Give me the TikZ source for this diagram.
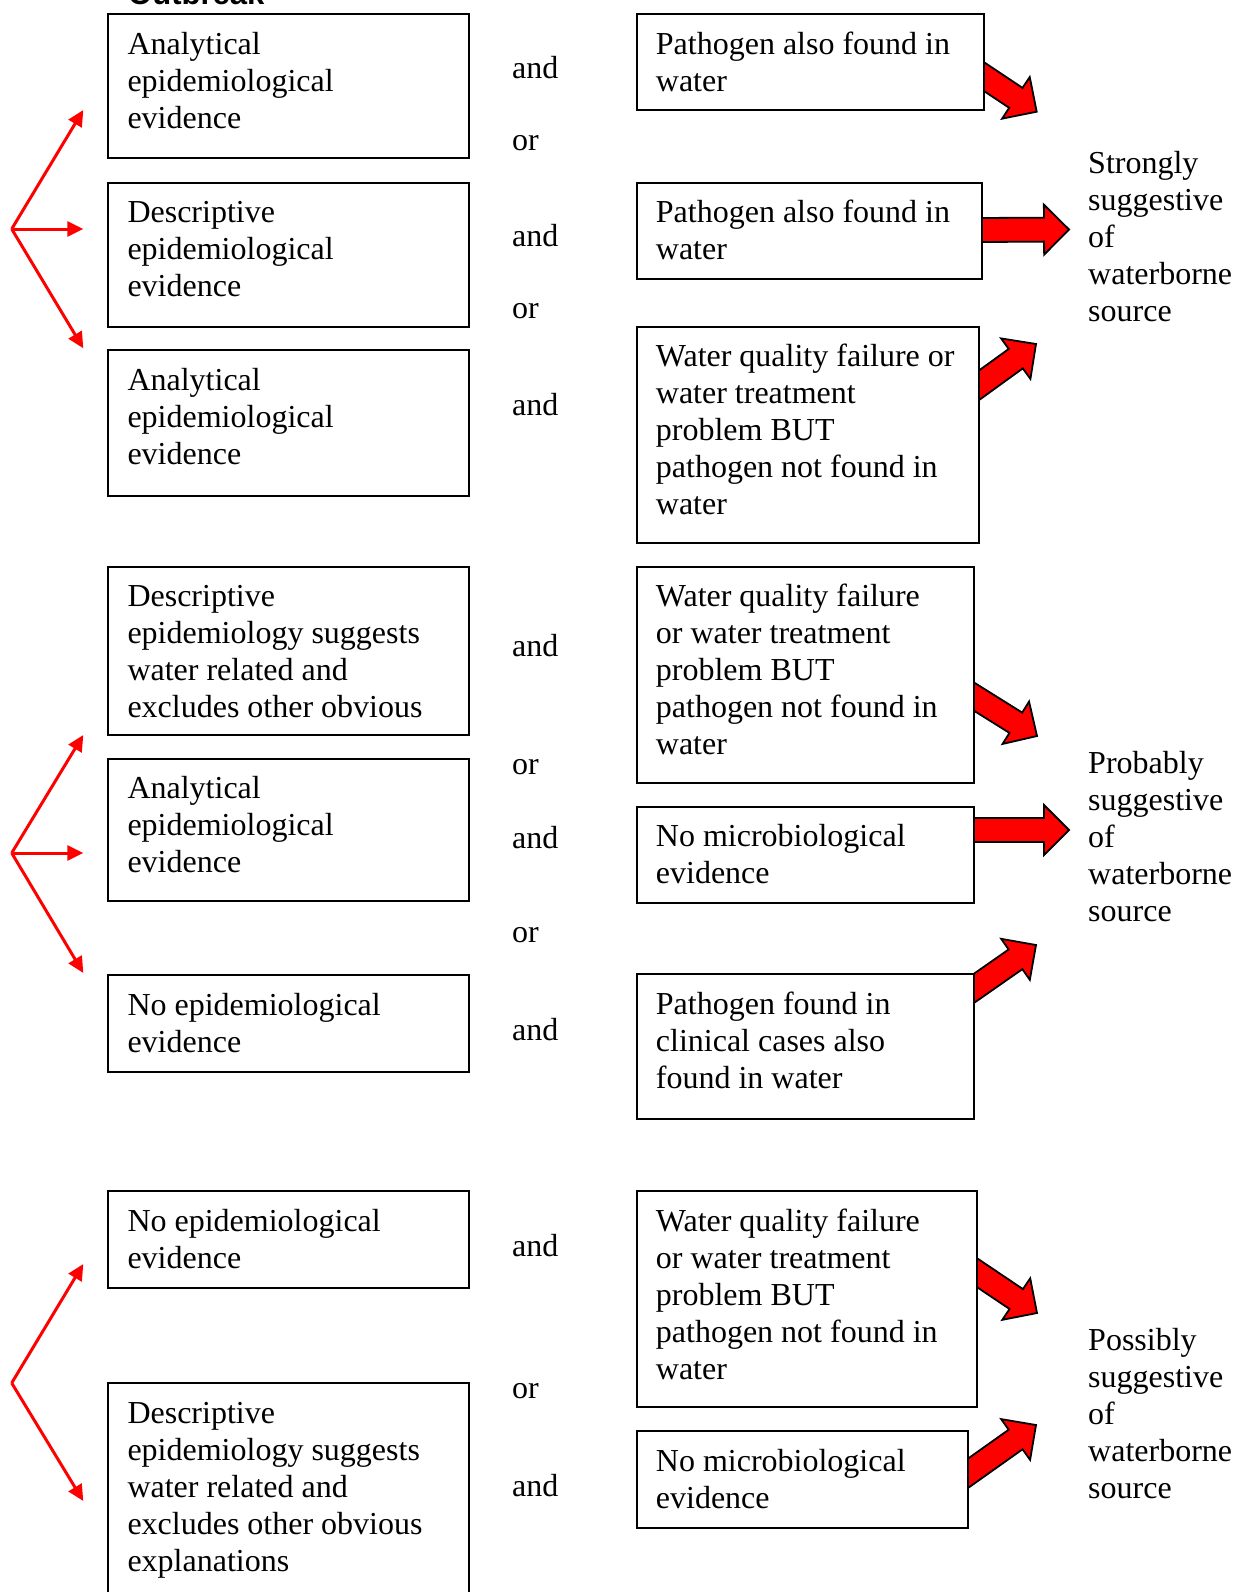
\documentclass[tikz,border=0pt]{standalone}
\usepackage{fontspec}
\setmainfont{Liberation Serif}
\newfontfamily\arialfam{Liberation Sans}
\usetikzlibrary{arrows.meta,calc}
\pgfdeclarelayer{bg}
\pgfsetlayers{bg,main}
\tikzset{
  boxst/.style={draw=black, fill=white, line width=2pt, inner sep=0pt, anchor=north west},
  txt/.style={inner sep=0pt, anchor=north west, align=left, font=\fontsize{32}{37}\selectfont},
  word/.style={inner sep=0pt, anchor=base west, font=\fontsize{32}{37}\selectfont},
  thinarr/.style={draw=red, line width=3pt, -{Triangle[length=16pt,width=15pt]}},
  blk/.style={fill=red, draw=black, line width=1.8pt, line join=miter},
}
\newcommand\tbox[6]{%
  \node[boxst, minimum width={(#4)-(#2)}, minimum height={(#5)-(#3)}] (#1) at (#2,#3) {};
  \node[txt] (#1t) at ([xshift=20pt,yshift=-15pt]#1.north west) {\strut #6};
}
\newcommand\blockarrow[2]{%
  \coordinate (#1b) at ($(#1)!-14pt!(#2)$);
  \coordinate (#1h) at ($(#2)!25pt!(#1)$);
  \path[blk] ($(#1b)!12pt!90:(#2)$) -- ($(#1h)!12pt!-90:(#1b)$) -- ($(#1h)!25pt!-90:(#1b)$)
     -- (#2) -- ($(#1h)!25pt!90:(#1b)$) -- ($(#1h)!12pt!90:(#1b)$) -- ($(#1b)!12pt!-90:(#2)$) -- cycle;
}
\begin{document}
\begin{tikzpicture}[x=1pt,y=-1pt]
\useasboundingbox (0,0) rectangle (1235,1592);
\clip (0,0) rectangle (1235,1592);

\node[inner sep=0pt, anchor=base west, font=\arialfam\bfseries\fontsize{31}{35}\selectfont] (ob) at (128,5) {Outbreak};

% left boxes
\tbox{l1}{107.3}{13.3}{468.3}{157.4}{Analytical\\epidemiological\\evidence}
\tbox{l2}{107.3}{181.8}{468.3}{326}{Descriptive\\epidemiological\\evidence}
\tbox{l3}{107.3}{349.4}{468.3}{494.6}{Analytical\\epidemiological\\evidence}
\tbox{l4}{107.3}{565.7}{468.3}{734.3}{Descriptive\\epidemiology suggests\\water related and\\excludes other obvious}
\tbox{l5}{107.3}{757.6}{468.3}{899.8}{Analytical\\epidemiological\\evidence}
\tbox{l6}{107.3}{974}{468.3}{1070.5}{No epidemiological\\evidence}
\tbox{l7}{107.3}{1190.3}{468.3}{1286.8}{No epidemiological\\evidence}
\tbox{l8}{107.3}{1382.2}{468.3}{1640}{Descriptive\\epidemiology suggests\\water related and\\excludes other obvious\\explanations}

% right boxes
\tbox{r1}{635.7}{13.3}{982.7}{109.3}{Pathogen also found in\\water}
\tbox{r2}{635.7}{181.7}{980.7}{277.7}{Pathogen also found in\\water}
\tbox{r3}{635.7}{325.7}{977.7}{542.3}{Water quality failure or\\water treatment\\problem BUT\\pathogen not found in\\water}
\tbox{r4}{635.7}{565.7}{972.7}{781.7}{Water quality failure\\or water treatment\\problem BUT\\pathogen not found in\\water}
\tbox{r5}{635.7}{805.7}{972.7}{901.7}{No microbiological\\evidence}
\tbox{r6}{635.7}{973.3}{972.7}{1118.2}{Pathogen found in\\clinical cases also\\found in water}
\tbox{r7}{635.7}{1190.3}{975.7}{1405.7}{Water quality failure\\or water treatment\\problem BUT\\pathogen not found in\\water}
\tbox{r8}{635.7}{1430}{966.7}{1526.5}{No microbiological\\evidence}

% and / or
\node[word] (and1) at (512,79) {and};
\node[word] (or1) at (512,150) {or};
\node[word] (and2) at (512,246.6) {and};
\node[word] (or2) at (512,318) {or};
\node[word] (and3) at (512,415) {and};
\node[word] (and4) at (512,656) {and};
\node[word] (or3) at (512,774) {or};
\node[word] (and5) at (512,848) {and};
\node[word] (or4) at (512,942) {or};
\node[word] (and6) at (512,1040) {and};
\node[word] (and7) at (512,1256) {and};
\node[word] (or5) at (512,1398) {or};
\node[word] (and8) at (512,1496) {and};

% conclusions
\node[txt] (c1) at (1088,147.1) {\strut Strongly\\suggestive\\of\\waterborne\\source};
\node[txt] (c2) at (1088,747.5) {\strut Probably\\suggestive\\of\\waterborne\\source};
\node[txt] (c3) at (1088,1324.5) {\strut Possibly\\suggestive\\of\\waterborne\\source};

% thin red fans
\coordinate (f1) at (11.7,229);
\coordinate (f1a) at (83.3,110);
\coordinate (f1b) at (83.3,229);
\coordinate (f1c) at (83.3,348.3);
\draw[thinarr] (f1) -- (f1a);
\draw[thinarr] (f1) -- (f1b);
\draw[thinarr] (f1) -- (f1c);
\coordinate (f2) at (11.7,853);
\coordinate (f2a) at (83.3,735);
\coordinate (f2b) at (83.3,853);
\coordinate (f2c) at (83.3,973);
\draw[thinarr] (f2) -- (f2a);
\draw[thinarr] (f2) -- (f2b);
\draw[thinarr] (f2) -- (f2c);
\coordinate (f3) at (11.7,1383);
\coordinate (f3a) at (83.3,1264);
\coordinate (f3c) at (83.3,1501);
\draw[thinarr] (f3) -- (f3a);
\draw[thinarr] (f3) -- (f3c);

% block arrows
\coordinate (s1) at (983,76);     \coordinate (t1) at (1036.7,111.7);
\coordinate (s2) at (981,230);    \coordinate (t2) at (1069,229.5);
\coordinate (s3) at (978,386);    \coordinate (t3) at (1036,344);
\coordinate (s4) at (973,696);    \coordinate (t4) at (1037,736);
\coordinate (s5) at (973,830);    \coordinate (t5) at (1069,830);
\coordinate (s6) at (973,989);    \coordinate (t6) at (1036,945);
\coordinate (s7) at (976,1272);   \coordinate (t7) at (1037,1313);
\coordinate (s8) at (967,1474);   \coordinate (t8) at (1036,1425);
\begin{pgfonlayer}{bg}
\blockarrow{s1}{t1}
\blockarrow{s2}{t2}
\blockarrow{s3}{t3}
\blockarrow{s4}{t4}
\blockarrow{s5}{t5}
\blockarrow{s6}{t6}
\blockarrow{s7}{t7}
\blockarrow{s8}{t8}
\end{pgfonlayer}
\end{tikzpicture}
\end{document}
